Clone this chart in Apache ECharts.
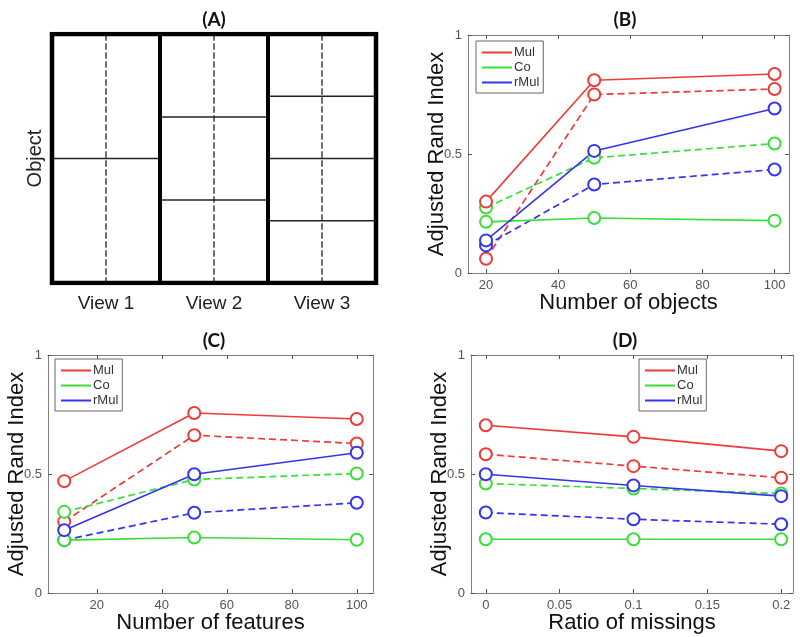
<!DOCTYPE html>
<html>
<head>
<meta charset="utf-8">
<script src="https://cdn.jsdelivr.net/npm/echarts@6/dist/echarts.min.js"></script>
<style>
html,body{margin:0;padding:0;background:#fff;}
#c{width:800px;height:637px;}
</style>
</head>
<body>
<div id="c"></div>
<script>
// ---- Panel A (schematic) ----
const viewsA = ['View 1', 'View 2', 'View 3'];
const cutsA = [[0.5], [1/3, 2/3], [0.25, 0.5, 0.75]];

// ---- Panels B, C, D ----
const methodNames = ['Mul', 'Co', 'rMul'];

const xB = [20, 50, 100];
const xTicksB = [20, 40, 60, 80, 100];
const mulB = [0.30, 0.81, 0.836];
const mulDashB = [0.06, 0.75, 0.773];
const coB = [0.215, 0.231, 0.22];
const coDashB = [0.275, 0.484, 0.544];
const rmulB = [0.137, 0.513, 0.691];
const rmulDashB = [0.116, 0.372, 0.435];

const xC = [10, 50, 100];
const xTicksC = [20, 40, 60, 80, 100];
const mulC = [0.47, 0.756, 0.731];
const mulDashC = [0.30, 0.663, 0.628];
const coC = [0.222, 0.233, 0.224];
const coDashC = [0.341, 0.477, 0.502];
const rmulC = [0.264, 0.499, 0.589];
const rmulDashC = [0.222, 0.337, 0.379];

const xD = [0, 0.1, 0.2];
const xTicksD = [0, 0.05, 0.1, 0.15, 0.2];
const mulD = [0.705, 0.656, 0.596];
const mulDashD = [0.583, 0.533, 0.484];
const coD = [0.226, 0.226, 0.226];
const coDashD = [0.46, 0.439, 0.418];
const rmulD = [0.499, 0.452, 0.407];
const rmulDashD = [0.338, 0.31, 0.289];

const yTicks = [0, 0.5, 1];

const colors = {Mul: '#f03a3a', Co: '#3ade3a', rMul: '#3434ee'};
const FONT = 'Liberation Sans';

const chart = echarts.init(document.getElementById('c'));

const grids = [
  {left: 52, top: 34, width: 324, height: 249},
  {left: 468, top: 35, width: 321, height: 238},
  {left: 48, top: 355, width: 325, height: 238},
  {left: 471, top: 355, width: 322, height: 238}
];

const xAxes = [];
const yAxes = [];
const series = [];

// Panel A axes
xAxes.push({
  gridIndex: 0, type: 'value', min: 0, max: 3,
  axisLine: {show: false}, axisTick: {show: false}, splitLine: {show: false},
  axisLabel: {
    customValues: [0.5, 1.5, 2.5],
    formatter: v => viewsA[Math.floor(v)],
    fontFamily: FONT, fontSize: 19, color: '#222', margin: 11
  }
});
yAxes.push({
  gridIndex: 0, type: 'value', min: 0, max: 1,
  axisLine: {show: false}, axisTick: {show: false}, splitLine: {show: false},
  axisLabel: {show: false},
  name: 'Object', nameLocation: 'middle', nameGap: 7, nameRotate: 90,
  nameTextStyle: {fontFamily: FONT, fontSize: 20, color: '#222'}
});

function seg(points, width, type, color) {
  series.push({
    type: 'line', xAxisIndex: 0, yAxisIndex: 0, data: points,
    symbol: 'none', silent: true, animation: false,
    lineStyle: {width: width, type: type, color: color || '#000', cap: 'square', join: 'miter'}
  });
}
// cuts & dashed center lines
cutsA.forEach((cuts, i) => {
  cuts.forEach(c => seg([[i, c], [i + 1, c]], 1.3, 'solid', '#222'));
  seg([[i + 0.5, 0], [i + 0.5, 1]], 1.3, [5, 4], '#222');
});
// view dividers
for (let i = 1; i < viewsA.length; i++) seg([[i, 0], [i, 1]], 4, 'solid');
// frame
seg([[0, 0], [3, 0], [3, 1], [0, 1], [0, 0]], 4.5, 'solid');

// Panels B-D
const panels = [
  {x: xB, ticks: xTicksB, min: 15, max: 104, name: 'Number of objects',
   vals: {Mul: [mulB, mulDashB], Co: [coB, coDashB], rMul: [rmulB, rmulDashB]},
   legend: {left: 476, top: 41}},
  {x: xC, ticks: xTicksC, min: 5, max: 105, name: 'Number of features',
   vals: {Mul: [mulC, mulDashC], Co: [coC, coDashC], rMul: [rmulC, rmulDashC]},
   legend: {left: 55, top: 359}},
  {x: xD, ticks: xTicksD, min: -0.01, max: 0.208, name: 'Ratio of missings',
   vals: {Mul: [mulD, mulDashD], Co: [coD, coDashD], rMul: [rmulD, rmulDashD]},
   legend: {left: 639, top: 359}}
];

const axisGray = '#808080';
const legends = [];

panels.forEach((p, k) => {
  const g = k + 1;
  const xi = xAxes.length;
  xAxes.push({
    gridIndex: g, type: 'value', min: p.min, max: p.max, position: 'bottom',
    axisLine: {show: true, onZero: false, lineStyle: {color: axisGray, width: 1}},
    axisTick: {show: true, inside: true, length: 4, customValues: p.ticks, lineStyle: {color: '#555'}},
    axisLabel: {customValues: p.ticks, fontFamily: FONT, fontSize: 13, color: '#555', margin: 6},
    splitLine: {show: false},
    name: p.name, nameLocation: 'middle', nameGap: 19, nameMoveOverlap: false,
    nameTextStyle: {fontFamily: FONT, fontSize: 22, color: '#111'}
  });
  xAxes.push({
    gridIndex: g, type: 'value', min: p.min, max: p.max, position: 'top',
    axisLine: {show: true, onZero: false, lineStyle: {color: axisGray, width: 1}},
    axisTick: {show: true, inside: true, length: 4, customValues: p.ticks, lineStyle: {color: '#555'}},
    axisLabel: {show: false}, splitLine: {show: false}
  });
  const yi = yAxes.length;
  yAxes.push({
    gridIndex: g, type: 'value', min: 0, max: 1, position: 'left',
    axisLine: {show: true, onZero: false, lineStyle: {color: axisGray, width: 1}},
    axisTick: {show: true, inside: true, length: 4, customValues: yTicks, lineStyle: {color: '#555'}},
    axisLabel: {customValues: yTicks, fontFamily: FONT, fontSize: 13, color: '#555', margin: 6},
    splitLine: {show: false},
    name: 'Adjusted Rand Index', nameLocation: 'middle', nameGap: 20, nameRotate: 90,
    nameMoveOverlap: false,
    nameTextStyle: {fontFamily: FONT, fontSize: 22, color: '#111'}
  });
  yAxes.push({
    gridIndex: g, type: 'value', min: 0, max: 1, position: 'right',
    axisLine: {show: true, onZero: false, lineStyle: {color: axisGray, width: 1}},
    axisTick: {show: true, inside: true, length: 4, customValues: yTicks, lineStyle: {color: '#555'}},
    axisLabel: {show: false}, splitLine: {show: false}
  });
  // dashed first then solid
  methodNames.forEach(m => {
    const [solid, dashed] = p.vals[m];
    series.push({
      name: m, type: 'line', xAxisIndex: xi, yAxisIndex: yi,
      data: p.x.map((xv, i) => [xv, dashed[i]]),
      symbol: 'emptyCircle', symbolSize: 12, animation: false,
      itemStyle: {color: colors[m], borderWidth: 1, borderColor: colors[m]},
      lineStyle: {color: colors[m], width: 1.7, type: [7, 4]},
      emphasis: {disabled: true}
    });
  });
  methodNames.forEach(m => {
    const [solid] = p.vals[m];
    series.push({
      name: m, type: 'line', xAxisIndex: xi, yAxisIndex: yi,
      data: p.x.map((xv, i) => [xv, solid[i]]),
      symbol: 'emptyCircle', symbolSize: 12, animation: false,
      itemStyle: {color: colors[m], borderWidth: 1, borderColor: colors[m]},
      lineStyle: {color: colors[m], width: 1.6, type: 'solid'},
      emphasis: {disabled: true}
    });
  });
  legends.push({
    left: p.legend.left, top: p.legend.top, orient: 'vertical',
    selectedMode: false, backgroundColor: '#fff',
    borderColor: '#666', borderWidth: 1, padding: [4, 4, 3, 6],
    itemWidth: 30, itemHeight: 2, itemGap: 0,
    textStyle: {fontFamily: FONT, fontSize: 13, color: '#333', lineHeight: 15, padding: [0, 0, 0, -3]},
    data: methodNames.map(m => ({name: m, icon: 'rect', itemStyle: {color: colors[m], borderWidth: 0}}))
  });
});

const titleStyle = {fontFamily: 'Lato', fontWeight: 'bold', fontSize: 19, color: '#111'};
chart.setOption({
  backgroundColor: '#fff',
  animation: false,
  title: [
    {text: '(A)', left: 209, top: 5, textAlign: 'center', textStyle: titleStyle},
    {text: '(B)', left: 620, top: 5, textAlign: 'center', textStyle: titleStyle},
    {text: '(C)', left: 209, top: 326, textAlign: 'center', textStyle: titleStyle},
    {text: '(D)', left: 620, top: 326, textAlign: 'center', textStyle: titleStyle}
  ],
  grid: grids,
  xAxis: xAxes,
  yAxis: yAxes,
  legend: legends,
  series: series
});
</script>
</body>
</html>
